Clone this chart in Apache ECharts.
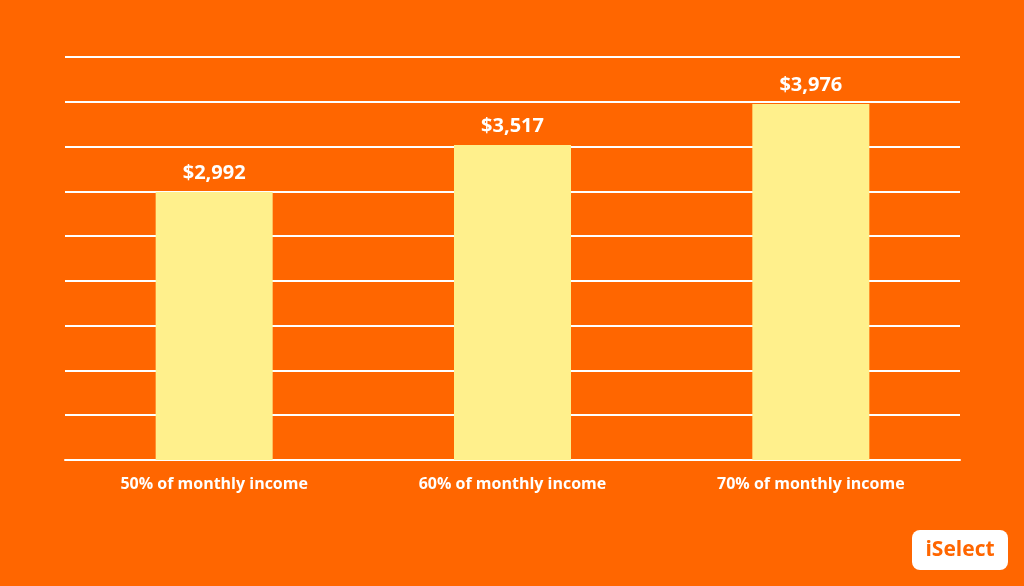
<!DOCTYPE html>
<html>
<head>
<meta charset="utf-8">
<script src="https://cdn.jsdelivr.net/npm/echarts@6/dist/echarts.min.js"></script>
<style>
  html, body { margin: 0; padding: 0; background: #ff6600; }
  #chart { width: 1024px; height: 586px; }
</style>
</head>
<body>
<div id="chart"></div>
<script>
// data
const categories = ['50% of monthly income', '60% of monthly income', '70% of monthly income']
const values = [2992, 3517, 3976]

const chart = echarts.init(document.getElementById('chart'), null, { renderer: 'canvas' })

const fmt = v => '$' + v.toLocaleString('en-US')

chart.setOption({
  backgroundColor: '#ff6600',
  animation: false,
  grid: { left: 65, right: 64, top: 57, bottom: 126, containLabel: false },
  xAxis: {
    type: 'category',
    data: categories,
    axisLine: { lineStyle: { color: '#ffffff', width: 2 } },
    axisTick: { show: false },
    axisLabel: {
      color: '#ffffff',
      fontFamily: 'Open Sans',
      fontWeight: 'bold',
      fontSize: 16,
      margin: 16
    }
  },
  yAxis: {
    type: 'value',
    min: 0,
    max: 4500,
    interval: 500,
    axisLabel: { show: false },
    axisLine: { show: false },
    axisTick: { show: false },
    splitLine: { lineStyle: { color: '#ffffff', width: 2 } }
  },
  series: [{
    type: 'bar',
    data: values,
    barWidth: 117,
    itemStyle: { color: '#fff08c' },
    label: {
      show: true,
      position: 'top',
      distance: 9,
      formatter: p => fmt(p.value),
      color: '#ffffff',
      fontFamily: 'Open Sans',
      fontWeight: 'bold',
      fontSize: 20
    }
  }],
  graphic: [{
    type: 'group',
    left: 912,
    top: 530,
    children: [
      { type: 'rect', shape: { x: 0, y: 0, width: 96, height: 40, r: 8 }, style: { fill: '#ffffff' } },
      { type: 'text', style: { x: 48, y: 20, text: 'iSelect', fill: '#ff6600', font: 'bold 21px "Open Sans"', align: 'center', verticalAlign: 'middle' } }
    ]
  }]
})
</script>
</body>
</html>
